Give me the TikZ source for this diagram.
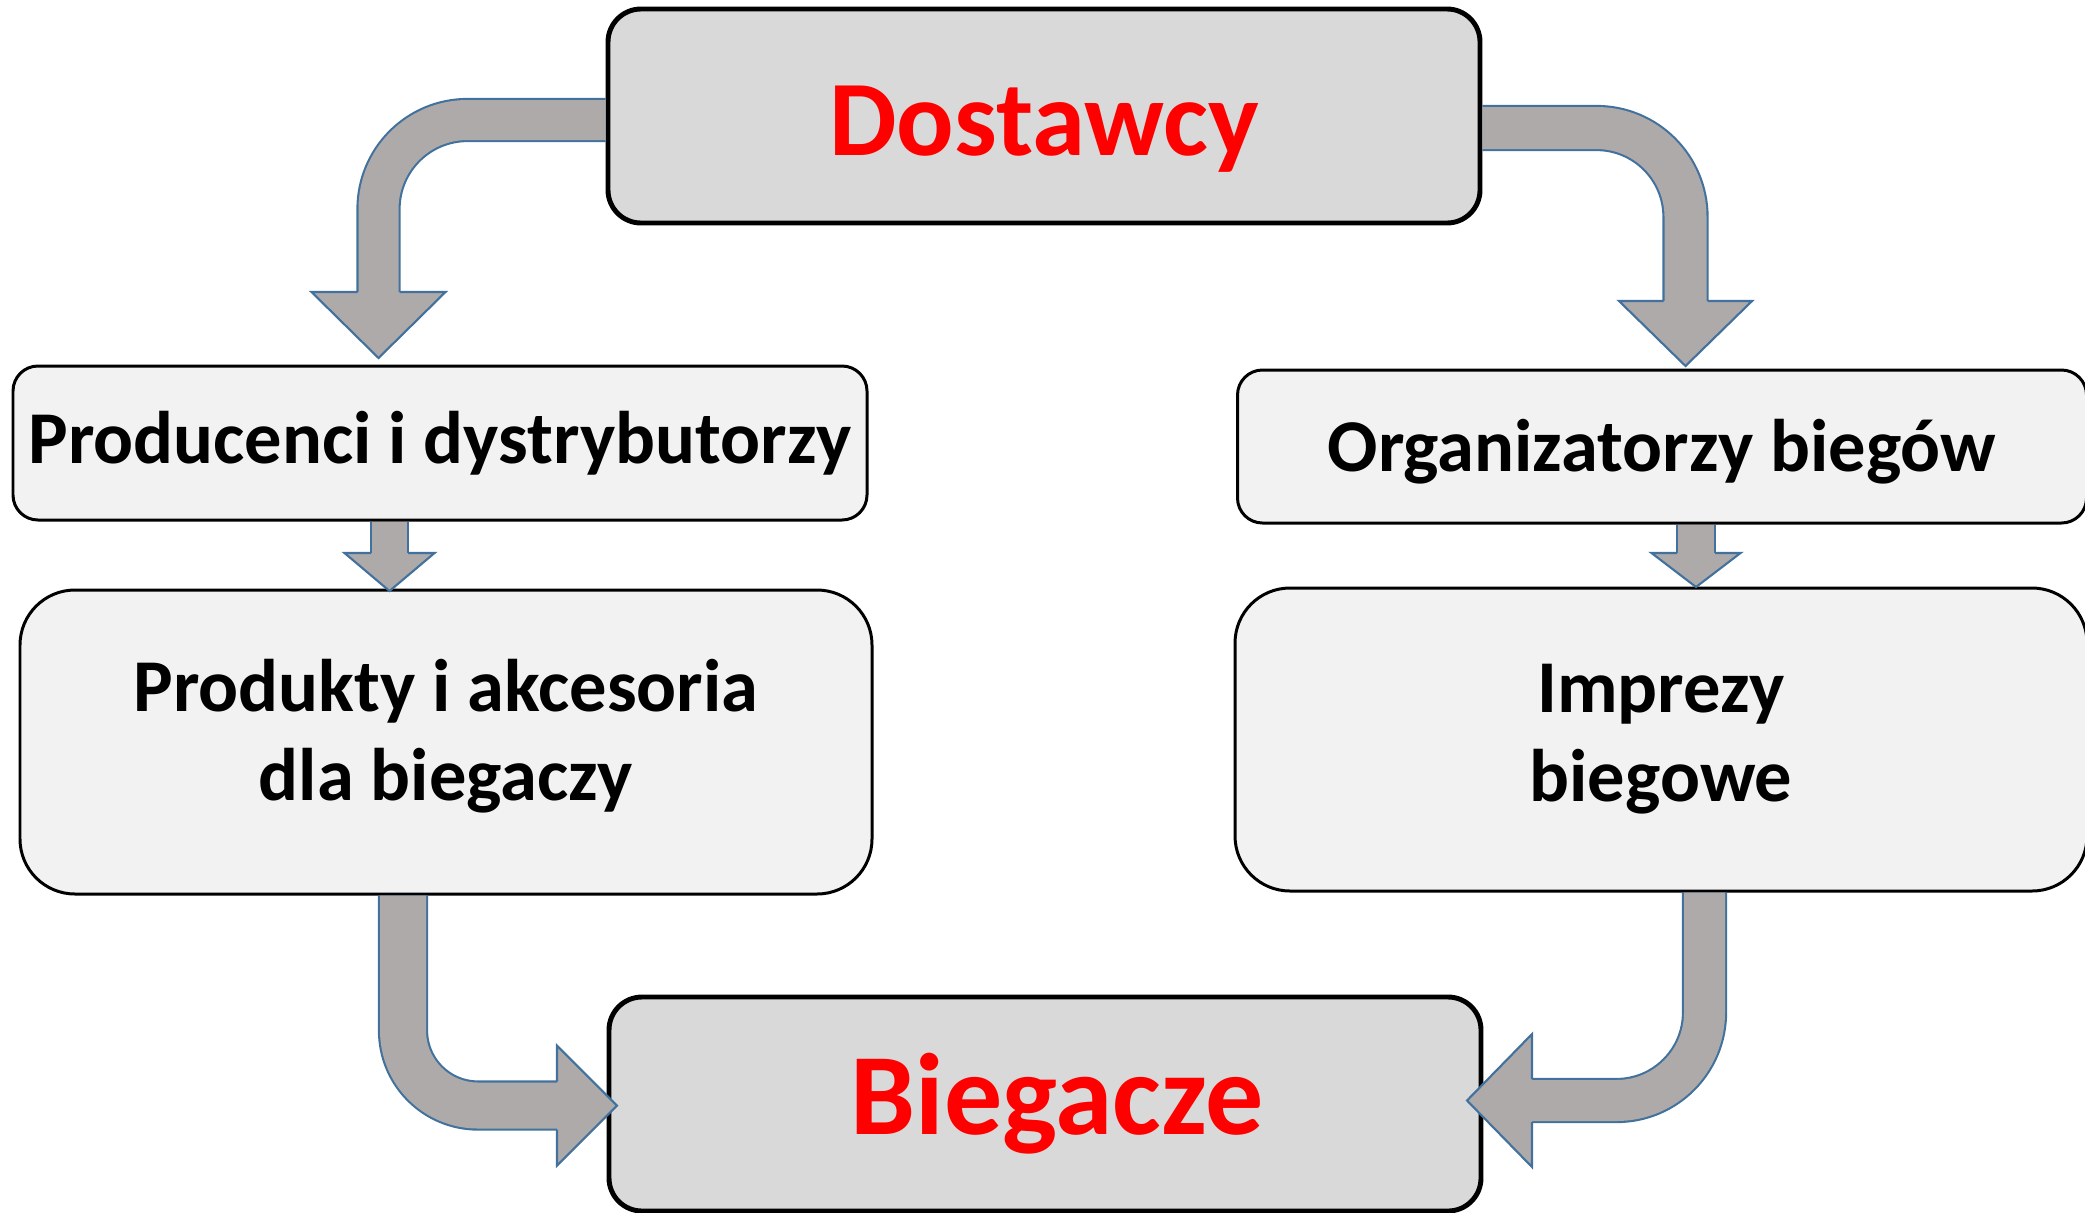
\documentclass[tikz,border=0pt]{standalone}
\usepackage{fontspec}
\setmainfont{Carlito}
\usepackage{tikz}
\definecolor{boxdark}{HTML}{D9D9D9}
\definecolor{boxlight}{HTML}{F2F2F2}
\definecolor{arrowgray}{HTML}{AEAAAA}
\definecolor{arrowblue}{HTML}{41719C}
\newcommand{\shifttext}[2]{\raisebox{#1}[\height][\depth]{#2}}

\begin{document}
\begin{tikzpicture}[
  mainbox/.style = {draw, line width=1.4pt, rounded corners=.33cm, fill=boxdark,
    text=red, inner sep=0pt, font=\fontsize{30.5}{36}\selectfont\bfseries},
  smallbox/.style = {draw, line width=.85pt, rounded corners=.25cm, fill=boxlight,
    inner sep=0pt, font=\fontsize{21.2}{25}\selectfont\bfseries},
  bigbox/.style = {draw, line width=.85pt, rounded corners=.55cm, fill=boxlight,
    inner sep=0pt, align=center, font=\fontsize{21.2}{25.3}\selectfont\bfseries},
  shaft/.style = {draw=arrowblue, line width=.6pt, double=arrowgray},
  head/.style = {draw=arrowblue, line width=.6pt, fill=arrowgray, line join=miter}
]
\useasboundingbox (0,0) rectangle (20.85,-12.12);

% boxes
\node[mainbox, minimum width=8.72cm, minimum height=2.14cm] (dost) at (10.44,-1.16) {\shifttext{-.13cm}{Dostawcy}};
\node[mainbox, minimum width=8.72cm, minimum height=2.14cm, font=\fontsize{33}{40}\selectfont\bfseries] (bieg) at (10.45,-11.04) {\hspace{.24cm}Biegacze};
\node[smallbox, minimum width=8.54cm, minimum height=1.54cm] (prod) at (4.40,-4.43) {Producenci i dystrybutorzy};
\node[bigbox, minimum width=8.52cm, minimum height=3.04cm] (produkty) at (4.46,-7.42) {\shifttext{.06cm}{Produkty i akcesoria}\\\shifttext{.06cm}{dla biegaczy}};
\node[smallbox, minimum width=8.49cm, minimum height=1.53cm] (org) at (16.62,-4.465) {\shifttext{-.05cm}{Organizatorzy biegów}};
\node[bigbox, minimum width=8.52cm, minimum height=3.03cm] (imprezy) at (16.61,-7.395) {Imprezy\\biegowe};

% arrows
\coordinate (b1) at (3.785,-2.92);
\coordinate (b2) at (16.855,-3.01);
\coordinate (b3) at (3.895,-5.53);
\coordinate (b4) at (16.96,-5.53);
\coordinate (b5) at (5.57,-11.055);
\coordinate (b6) at (15.32,-11.005);
\coordinate (s5) at (4.03,0);
\coordinate (s6) at (17.045,0);

\draw[shaft, double distance=.40cm, rounded corners=.89cm] ([yshift=-.04cm]dost.west) -| (b1);
\filldraw[head] ([xshift=-.21cm]b1) -- ([xshift=-.67cm]b1) -- ([yshift=-.66cm]b1)
  -- ([xshift=.67cm]b1) -- ([xshift=.21cm]b1);

\draw[shaft, double distance=.42cm, rounded corners=.89cm] ([yshift=-.12cm]dost.east) -| (b2);
\filldraw[head] ([xshift=-.22cm]b2) -- ([xshift=-.665cm]b2) -- ([yshift=-.65cm]b2)
  -- ([xshift=.665cm]b2) -- ([xshift=.22cm]b2);

\draw[shaft, double distance=.35cm] (b3 |- prod.south) -- (b3);
\filldraw[head] ([xshift=-.185cm]b3) -- ([xshift=-.45cm]b3) -- ([yshift=-.38cm]b3)
  -- ([xshift=.45cm]b3) -- ([xshift=.185cm]b3);

\draw[shaft, double distance=.36cm] (b4 |- org.south) -- (b4);
\filldraw[head] ([xshift=-.19cm]b4) -- ([xshift=-.445cm]b4) -- ([yshift=-.34cm]b4)
  -- ([xshift=.445cm]b4) -- ([xshift=.19cm]b4);

\draw[shaft, double distance=.46cm, rounded corners=.75cm] (s5 |- produkty.south) |- (b5);
\filldraw[head] ([yshift=.24cm]b5) -- ([yshift=.60cm]b5) -- ([xshift=.60cm]b5)
  -- ([yshift=-.60cm]b5) -- ([yshift=-.24cm]b5);

\draw[shaft, double distance=.41cm, rounded corners=.88cm] (s6 |- imprezy.south) |- (b6);
\filldraw[head] ([yshift=.215cm]b6) -- ([yshift=.665cm]b6) -- ([xshift=-.65cm]b6)
  -- ([yshift=-.665cm]b6) -- ([yshift=-.215cm]b6);
\end{tikzpicture}
\end{document}
